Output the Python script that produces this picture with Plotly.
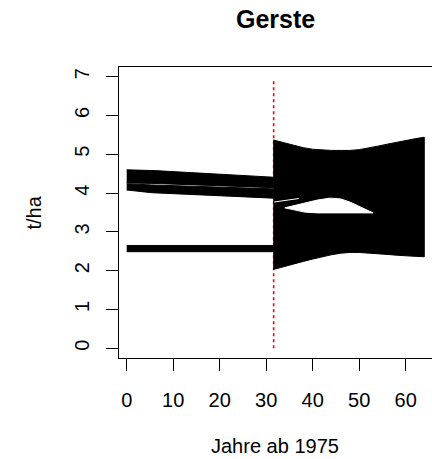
import plotly.graph_objects as go

# ---- data ----
# historical bands (Jahre ab 1975, t/ha)
band_a_x = [0, 6, 31.5]
band_a_top = [4.60, 4.58, 4.41]
band_a_bottom_x = [0, 5.4, 31.5]
band_a_bottom = [4.26, 4.25, 4.14]

band_b_x = [0, 5.4, 31.5]
band_b_top = [4.24, 4.21, 4.11]
band_b_bottom = [4.08, 4.01, 3.87]

band_c_x = [0, 31.5]
band_c_top = [2.65, 2.65]
band_c_bottom = [2.49, 2.49]

# projection fan
fan_x = [31.5, 34, 36, 38, 40, 42, 44, 46, 48, 50, 52, 54, 56, 58, 60, 62, 64]
fan_upper = [5.37, 5.29, 5.23, 5.17, 5.13, 5.11, 5.10, 5.10, 5.10, 5.12, 5.16, 5.21, 5.26, 5.31, 5.35, 5.40, 5.44]
fan_lower = [2.03, 2.11, 2.18, 2.24, 2.30, 2.36, 2.41, 2.45, 2.47, 2.47, 2.46, 2.44, 2.42, 2.40, 2.38, 2.37, 2.36]

# white gap inside the fan
lens_x = [34, 36, 38.3, 41, 43.7, 46, 48, 50.5, 53]
lens_upper = [3.62, 3.68, 3.74, 3.82, 3.87, 3.85, 3.77, 3.62, 3.49]
lens_lower = [3.62, 3.56, 3.51, 3.49, 3.49, 3.49, 3.49, 3.49, 3.49]

streak_x = [31.7, 37]
streak_y = [3.77, 3.86]

split_year = 31.6
split_y = [0, 6.92]

x_ticks = [0, 10, 20, 30, 40, 50, 60]
y_ticks = [0, 1, 2, 3, 4, 5, 6, 7]

FONT = "Liberation Sans, Arial, sans-serif"

fig = go.Figure()

# red dotted split line first, so the fan covers it
fig.add_trace(go.Scatter(x=[split_year, split_year], y=split_y, mode="lines",
                         line=dict(color="#ff0000", width=1.6, dash="dot"),
                         hoverinfo="skip", showlegend=False))


def band(xu, yu, xl, yl, color):
    fig.add_trace(go.Scatter(
        x=list(xu) + list(xl)[::-1],
        y=list(yu) + list(yl)[::-1],
        mode="lines", fill="toself", fillcolor=color,
        line=dict(color=color, width=1), hoverinfo="skip", showlegend=False))


band(band_a_x, band_a_top, band_a_bottom_x, band_a_bottom, "black")
band(band_b_x, band_b_top, band_b_x, band_b_bottom, "black")
band(band_c_x, band_c_top, band_c_x, band_c_bottom, "black")
band(fan_x, fan_upper, fan_x, fan_lower, "black")
band(lens_x, lens_upper, lens_x, lens_lower, "white")

fig.add_trace(go.Scatter(x=streak_x, y=streak_y, mode="lines",
                         line=dict(color="white", width=1),
                         hoverinfo="skip", showlegend=False))

W, H = 432, 459
L, R, T, B = 119, 0, 67, 101
pw, ph = W - L - R, H - T - B


def px(xp):
    return (xp - L) / pw


def py(yp):
    return (H - B - yp) / ph


fig.update_layout(
    width=W, height=H,
    margin=dict(l=L, r=R, t=T, b=B, pad=0),
    paper_bgcolor="white", plot_bgcolor="white",
    font=dict(family=FONT, size=20, color="black"),
    showlegend=False,
    xaxis=dict(range=[-1.66, 65.66], tickvals=x_ticks, ticks="outside", ticklen=12,
               tickwidth=1, tickcolor="black", showgrid=False, zeroline=False,
               showline=True, linecolor="black", linewidth=1, mirror=True,
               ticklabelstandoff=12, tickfont=dict(size=20)),
    yaxis=dict(range=[-0.25, 7.25], tickvals=y_ticks, ticks="outside", ticklen=12,
               tickwidth=1, tickcolor="black", showgrid=False, zeroline=False,
               showline=True, linecolor="black", linewidth=1, mirror=False,
               tickangle=-90, ticklabelstandoff=9, tickfont=dict(size=20)),
    annotations=[
        dict(text="<b>Gerste</b>", x=px(275), y=py(19), xref="paper", yref="paper",
             xanchor="center", yanchor="middle", showarrow=False,
             font=dict(size=25, family=FONT)),
        dict(text="Jahre ab 1975", x=px(275), y=py(446), xref="paper", yref="paper",
             xanchor="center", yanchor="middle", showarrow=False,
             font=dict(size=20, family=FONT)),
        dict(text="t/ha", x=px(33), y=py(212.5), xref="paper", yref="paper",
             xanchor="center", yanchor="middle", showarrow=False, textangle=-90,
             font=dict(size=20, family=FONT)),
    ],
)

fig.write_html("out.html")
